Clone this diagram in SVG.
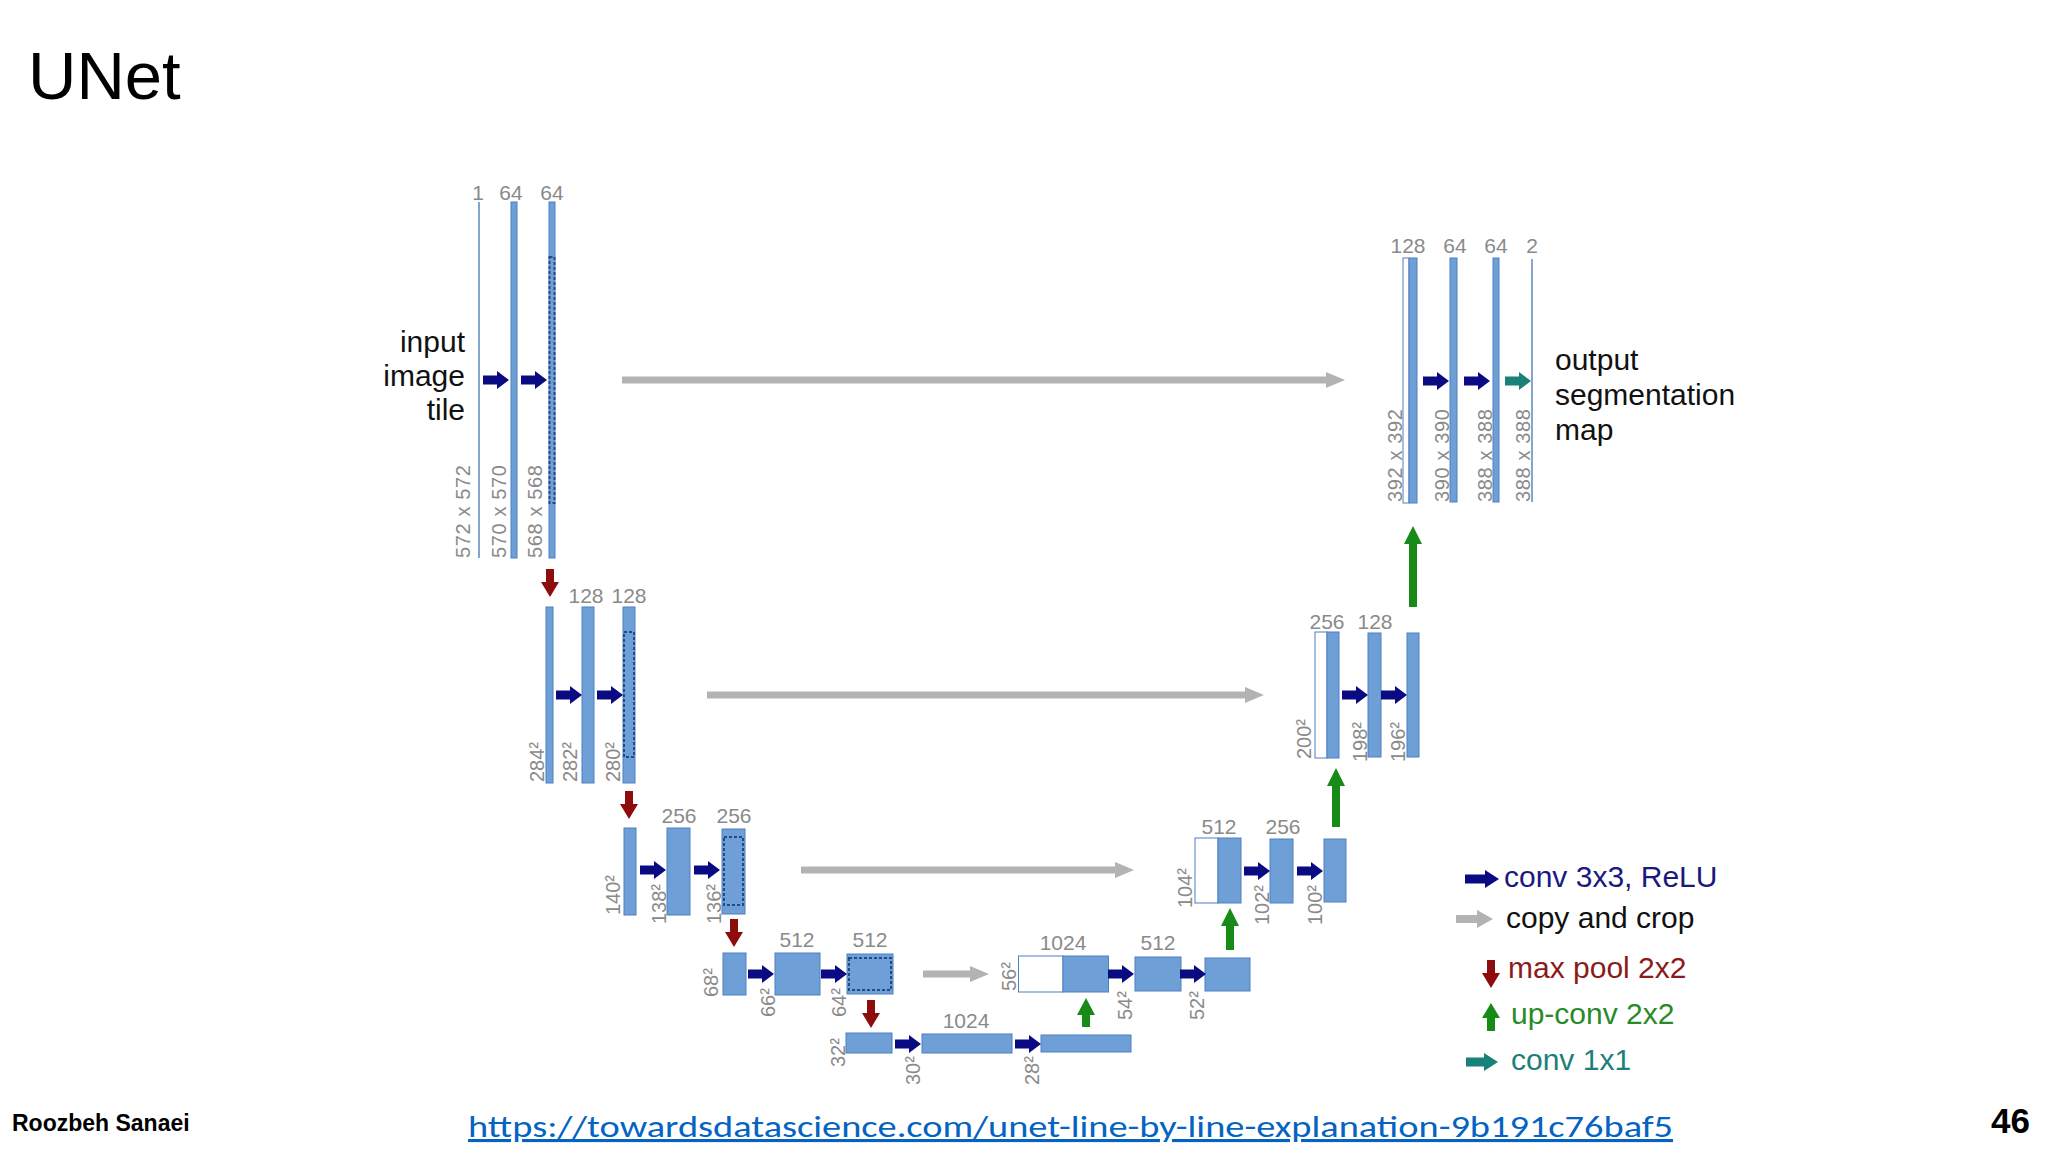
<svg xmlns="http://www.w3.org/2000/svg" width="2048" height="1152" viewBox="0 0 2048 1152">
<style>
  .fm { fill: #6e9fd6; stroke: #4f7fbf; stroke-width: 1; }
  .wh { fill: #ffffff; stroke: #4f7fbf; stroke-width: 1; }
  .ln { stroke: #5b88c0; stroke-width: 1.5; }
  .dot { fill: none; stroke: #234a88; stroke-width: 2; stroke-dasharray: 3 2; }
  .ch { font-family: "Liberation Sans", Arial, sans-serif; font-size: 21px; fill: #8a8a8a; text-anchor: middle; }
  .sz { font-family: "Liberation Sans", Arial, sans-serif; font-size: 20px; fill: #8a8a8a; }
  .big { font-family: "Liberation Sans", Arial, sans-serif; font-size: 30px; fill: #111111; }
  .conv { fill: #0a0a82; }
  .pool { fill: #8e0c0c; }
  .up { fill: #178a17; }
  .one { fill: #17817a; }
  .copy { fill: #b3b3b3; }
</style>
<defs>
  <path id="convR" d="M-26,-4.5 H-12 V-9 L0,0 L-12,9 V4.5 H-26 Z"/>
  <path id="poolD" d="M-4,-28 H4 V-15 H9 L0,0 L-9,-15 H-4 Z"/>
</defs>
<rect x="0" y="0" width="2048" height="1152" fill="#ffffff"/>

<text id="title" x="28" y="99" font-family="Liberation Sans, Arial, sans-serif" font-size="67" fill="#000000">UNet</text>

<!-- Level 1 (left) -->
<g id="L1-input">
  <line class="ln" x1="479" y1="202" x2="479" y2="558"/>
  <text class="ch" x="478" y="200">1</text>
  <text class="sz" transform="translate(470,558) rotate(-90)" textLength="93">572 x 572</text>
  <text class="big" text-anchor="end" x="465" y="352">input</text>
  <text class="big" text-anchor="end" x="465" y="386">image</text>
  <text class="big" text-anchor="end" x="465" y="420">tile</text>
</g>
<g id="L1-conv1">
  <rect class="fm" x="511" y="202" width="6" height="356"/>
  <text class="ch" x="511" y="200">64</text>
  <text class="sz" transform="translate(506,558) rotate(-90)" textLength="93">570 x 570</text>
</g>
<g id="L1-conv2">
  <rect class="fm" x="549" y="202" width="6" height="356"/>
  <rect class="dot" x="549.5" y="257" width="5" height="246"/>
  <text class="ch" x="552" y="200">64</text>
  <text class="sz" transform="translate(542,558) rotate(-90)" textLength="93">568 x 568</text>
</g>

<!-- Level 2 (left) -->
<g id="L2-pool">
  <rect class="fm" x="546" y="607" width="7" height="176"/>
  <text class="sz" transform="translate(544,782) rotate(-90)">284²</text>
</g>
<g id="L2-conv1">
  <rect class="fm" x="582" y="607" width="12" height="176"/>
  <text class="ch" x="586" y="603">128</text>
  <text class="sz" transform="translate(577,782) rotate(-90)">282²</text>
</g>
<g id="L2-conv2">
  <rect class="fm" x="623" y="607" width="12" height="176"/>
  <rect class="dot" x="624" y="632" width="10" height="125"/>
  <text class="ch" x="629" y="603">128</text>
  <text class="sz" transform="translate(620,782) rotate(-90)">280²</text>
</g>

<!-- Level 3 (left) -->
<g id="L3-pool">
  <rect class="fm" x="624" y="828" width="12" height="87"/>
  <text class="sz" transform="translate(620,915) rotate(-90)">140²</text>
</g>
<g id="L3-conv1">
  <rect class="fm" x="667" y="828" width="23" height="87"/>
  <text class="ch" x="679" y="823">256</text>
  <text class="sz" transform="translate(666,924) rotate(-90)">138²</text>
</g>
<g id="L3-conv2">
  <rect class="fm" x="722" y="829" width="23" height="85"/>
  <rect class="dot" x="724" y="837" width="19" height="68"/>
  <text class="ch" x="734" y="823">256</text>
  <text class="sz" transform="translate(721,924) rotate(-90)">136²</text>
</g>

<!-- Level 4 (left) -->
<g id="L4-pool">
  <rect class="fm" x="723" y="953" width="23" height="42"/>
  <text class="sz" transform="translate(718,997) rotate(-90)">68²</text>
</g>
<g id="L4-conv1">
  <rect class="fm" x="775" y="953" width="45" height="42"/>
  <text class="ch" x="797" y="947">512</text>
  <text class="sz" transform="translate(775,1017) rotate(-90)">66²</text>
</g>
<g id="L4-conv2">
  <rect class="fm" x="847" y="954" width="46" height="40"/>
  <rect class="dot" x="849" y="958" width="42" height="32"/>
  <text class="ch" x="870" y="947">512</text>
  <text class="sz" transform="translate(846,1017) rotate(-90)">64²</text>
</g>

<!-- Level 5 (bottom) -->
<g id="L5-pool">
  <rect class="fm" x="846" y="1033" width="46" height="20"/>
  <text class="sz" transform="translate(845,1067) rotate(-90)">32²</text>
</g>
<g id="L5-conv1">
  <rect class="fm" x="922" y="1034" width="90" height="19"/>
  <text class="ch" x="966" y="1028">1024</text>
  <text class="sz" transform="translate(920,1085) rotate(-90)">30²</text>
</g>
<g id="L5-conv2">
  <rect class="fm" x="1041" y="1035" width="90" height="17"/>
  <text class="sz" transform="translate(1039,1085) rotate(-90)">28²</text>
</g>

<!-- Level 4 (right) -->
<g id="R4-concat">
  <rect class="wh" x="1018.5" y="956" width="44.5" height="36"/>
  <rect class="fm" x="1063" y="956" width="45.5" height="36"/>
  <text class="ch" x="1063" y="950">1024</text>
  <text class="sz" transform="translate(1016,991) rotate(-90)">56²</text>
</g>
<g id="R4-conv1">
  <rect class="fm" x="1135" y="957" width="46" height="34"/>
  <text class="ch" x="1158" y="950">512</text>
  <text class="sz" transform="translate(1132,1020) rotate(-90)">54²</text>
</g>
<g id="R4-conv2">
  <rect class="fm" x="1205" y="958" width="45" height="33"/>
  <text class="sz" transform="translate(1204,1020) rotate(-90)">52²</text>
</g>

<!-- Level 3 (right) -->
<g id="R3-concat">
  <rect class="wh" x="1195" y="838" width="23" height="65"/>
  <rect class="fm" x="1218" y="838" width="23" height="65"/>
  <text class="ch" x="1219" y="834">512</text>
  <text class="sz" transform="translate(1192,908) rotate(-90)">104²</text>
</g>
<g id="R3-conv1">
  <rect class="fm" x="1270" y="839" width="23" height="64"/>
  <text class="ch" x="1283" y="834">256</text>
  <text class="sz" transform="translate(1269,925) rotate(-90)">102²</text>
</g>
<g id="R3-conv2">
  <rect class="fm" x="1324" y="839" width="22" height="63"/>
  <text class="sz" transform="translate(1322,925) rotate(-90)">100²</text>
</g>

<!-- Level 2 (right) -->
<g id="R2-concat">
  <rect class="wh" x="1315" y="632" width="12" height="126"/>
  <rect class="fm" x="1327" y="632" width="12" height="126"/>
  <text class="ch" x="1327" y="629">256</text>
  <text class="sz" transform="translate(1311,759) rotate(-90)">200²</text>
</g>
<g id="R2-conv1">
  <rect class="fm" x="1368" y="633" width="13" height="124"/>
  <text class="ch" x="1375" y="629">128</text>
  <text class="sz" transform="translate(1367,762) rotate(-90)">198²</text>
</g>
<g id="R2-conv2">
  <rect class="fm" x="1407" y="633" width="12" height="124"/>
  <text class="sz" transform="translate(1405,762) rotate(-90)">196²</text>
</g>

<!-- Level 1 (right) -->
<g id="R1-concat">
  <rect class="wh" x="1403" y="258" width="6" height="245"/>
  <rect class="fm" x="1409" y="258" width="8" height="245"/>
  <text class="ch" x="1408" y="253">128</text>
  <text class="sz" transform="translate(1402,502) rotate(-90)" textLength="93">392 x 392</text>
</g>
<g id="R1-conv1">
  <rect class="fm" x="1450" y="258" width="7" height="244"/>
  <text class="ch" x="1455" y="253">64</text>
  <text class="sz" transform="translate(1449,502) rotate(-90)" textLength="93">390 x 390</text>
</g>
<g id="R1-conv2">
  <rect class="fm" x="1493" y="258" width="6" height="244"/>
  <text class="ch" x="1496" y="253">64</text>
  <text class="sz" transform="translate(1492,502) rotate(-90)" textLength="93">388 x 388</text>
</g>
<g id="R1-output">
  <line class="ln" x1="1532" y1="259" x2="1532" y2="502"/>
  <text class="ch" x="1532" y="253">2</text>
  <text class="sz" transform="translate(1530,502) rotate(-90)" textLength="93">388 x 388</text>
  <text class="big" x="1555" y="370">output</text>
  <text class="big" x="1555" y="405">segmentation</text>
  <text class="big" x="1555" y="440">map</text>
</g>

<!-- Connectors -->
<g id="connectors">
  <!-- conv 3x3 -->
  <use href="#convR" class="conv" x="509" y="380"/>
  <use href="#convR" class="conv" x="547" y="380"/>
  <use href="#convR" class="conv" x="582" y="695"/>
  <use href="#convR" class="conv" x="623" y="695"/>
  <use href="#convR" class="conv" x="666" y="870"/>
  <use href="#convR" class="conv" x="720" y="870"/>
  <use href="#convR" class="conv" x="774" y="974"/>
  <use href="#convR" class="conv" x="847" y="974"/>
  <use href="#convR" class="conv" x="921" y="1044"/>
  <use href="#convR" class="conv" x="1041" y="1044"/>
  <use href="#convR" class="conv" x="1134" y="974"/>
  <use href="#convR" class="conv" x="1206" y="974"/>
  <use href="#convR" class="conv" x="1270" y="871"/>
  <use href="#convR" class="conv" x="1323" y="871"/>
  <use href="#convR" class="conv" x="1368" y="695"/>
  <use href="#convR" class="conv" x="1407" y="695"/>
  <use href="#convR" class="conv" x="1449" y="381"/>
  <use href="#convR" class="conv" x="1490" y="381"/>
  <!-- conv 1x1 -->
  <use href="#convR" class="one" x="1531" y="381"/>
  <!-- max pool -->
  <use href="#poolD" class="pool" x="550" y="597"/>
  <use href="#poolD" class="pool" x="629" y="819"/>
  <use href="#poolD" class="pool" x="734" y="947"/>
  <use href="#poolD" class="pool" x="871" y="1028"/>
  <!-- up-conv -->
  <path class="up" d="M1082,1027 V1015 H1077 L1086,998 L1095,1015 H1090 V1027 Z"/>
  <path class="up" d="M1226,950 V926 H1221 L1230,908 L1239,926 H1234 V950 Z"/>
  <path class="up" d="M1332,827 V786 H1327 L1336,768 L1345,786 H1340 V827 Z"/>
  <path class="up" d="M1409,607 V544 H1404 L1413,526 L1422,544 H1417 V607 Z"/>
  <!-- copy and crop -->
  <path class="copy" d="M622,376.5 H1326 V372 L1345,380 L1326,388 V383.5 H622 Z"/>
  <path class="copy" d="M707,691.5 H1245 V687 L1264,695 L1245,703 V698.5 H707 Z"/>
  <path class="copy" d="M801,866.5 H1115 V862 L1134,870 L1115,878 V873.5 H801 Z"/>
  <path class="copy" d="M923,970.5 H970 V966 L989,974 L970,982 V977.5 H923 Z"/>
</g>

<!-- Legend -->
<g id="legend">
  <path class="conv" d="M1465,874.5 H1485 V870 L1499,879 L1485,888 V883.5 H1465 Z"/>
  <text x="1504" y="887" font-family="Liberation Sans, Arial, sans-serif" font-size="30" fill="#1a1a7e">conv 3x3, ReLU</text>
  <path class="copy" d="M1456,915 H1477 V910 L1493,919 L1477,928 V923 H1456 Z"/>
  <text x="1506" y="928" font-family="Liberation Sans, Arial, sans-serif" font-size="30" fill="#111111">copy and crop</text>
  <path class="pool" d="M1487,960 H1495 V973 H1500 L1491,988 L1482,973 H1487 Z"/>
  <text x="1508" y="978" font-family="Liberation Sans, Arial, sans-serif" font-size="30" fill="#8b1b1b">max pool 2x2</text>
  <path class="up" d="M1487,1031 V1018 H1482 L1491,1003 L1500,1018 H1495 V1031 Z"/>
  <text x="1511" y="1024" font-family="Liberation Sans, Arial, sans-serif" font-size="30" fill="#2a8a2a">up-conv 2x2</text>
  <path class="one" d="M1466,1057.5 H1484 V1053 L1498,1062 L1484,1071 V1066.5 H1466 Z"/>
  <text x="1511" y="1070" font-family="Liberation Sans, Arial, sans-serif" font-size="30" fill="#1c7f7a">conv 1x1</text>
</g>

<!-- Footer -->
<text id="author" x="12" y="1131" font-family="Liberation Sans, Arial, sans-serif" font-size="23" font-weight="bold" fill="#000000">Roozbeh Sanaei</text>
<text id="link" x="468" y="1137" font-family="Carlito, Calibri, Liberation Sans, Arial, sans-serif" font-size="31" fill="#0563c1" text-decoration="underline" textLength="1205" lengthAdjust="spacingAndGlyphs">https://towardsdatascience.com/unet-line-by-line-explanation-9b191c76baf5</text>
<text id="page" x="2030" y="1133" text-anchor="end" font-family="Liberation Sans, Arial, sans-serif" font-size="35" font-weight="bold" fill="#000000">46</text>
</svg>
